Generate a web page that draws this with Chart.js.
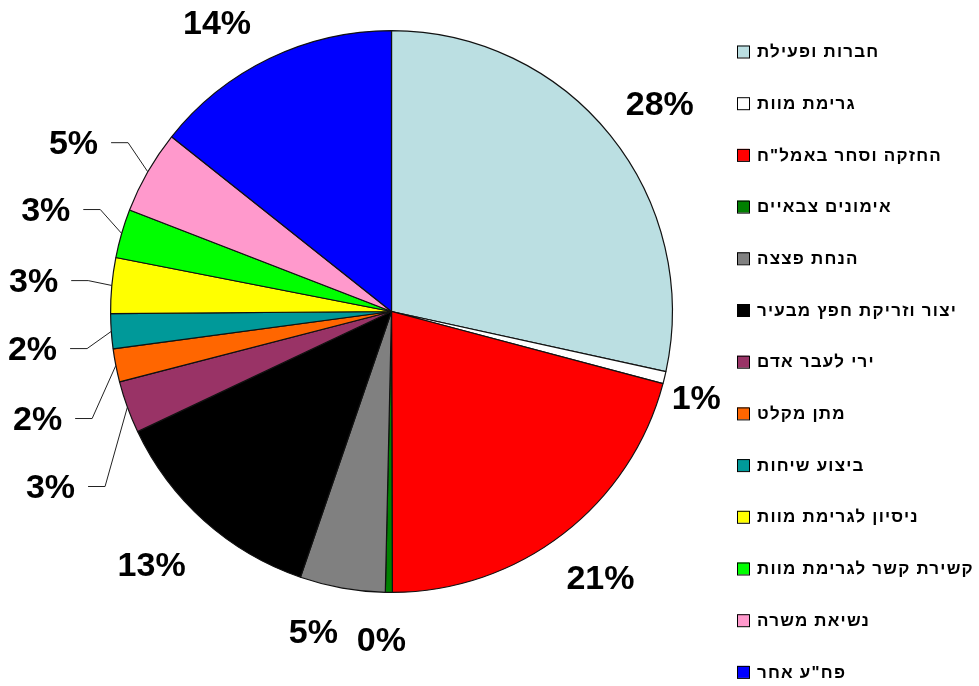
<!DOCTYPE html>
<html>
<head>
<meta charset="utf-8">
<script src="https://cdn.jsdelivr.net/npm/chart.js@4"></script>
<style>
  html, body { margin: 0; padding: 0; background: #fff; }
  #wrap { width: 979px; height: 686px; }
</style>
</head>
<body>
<div id="wrap"><canvas id="pieChart" width="979" height="686"></canvas></div>
<script>
// categories, clockwise from 12 o'clock
var categories = [
  'חברות ופעילת',
  'גרימת מוות',
  'החזקה וסחר באמל"ח',
  'אימונים צבאיים',
  'הנחת פצצה',
  'יצור וזריקת חפץ מבעיר',
  'ירי לעבר אדם',
  'מתן מקלט',
  'ביצוע שיחות',
  'ניסיון לגרימת מוות',
  'קשירת קשר לגרימת מוות',
  'נשיאת משרה',
  'פח"ע אחר'
];

// share of each category
var shares = [28.4, 0.7, 20.8, 0.4, 4.9, 12.7, 3.0, 1.9, 2.0, 3.2, 2.8, 4.8, 14.3];

var sliceColors = [
  '#BBDFE2', '#FFFFFF', '#FF0000', '#008000', '#808080', '#000000', '#993366',
  '#FF6600', '#009999', '#FFFF00', '#00FF00', '#FF99CC', '#0000FF'
];

// where each % label sits, as offset from pie centre in units of radius
var labelSpots = [
  [0.955, -0.741], [1.085, 0.306], [0.744, 0.947], [-0.036, 1.167],
  [-0.278, 1.139], [-0.854, 0.900], [-1.214, 0.623], [-1.260, 0.381],
  [-1.278, 0.132], [-1.274, -0.110], [-1.231, -0.363], [-1.132, -0.601],
  [-0.621, -1.030]
];
// labels that get a leader line back to their slice
var leaderLines = [false, false, false, false, false, false, true, true, true, true, true, true, false];

var labelFont = 'bold 34px "Liberation Sans", Arial, sans-serif';
var legendFont = 'bold 17px "Liberation Sans", Arial, sans-serif';

// draws the percentage labels (with leader lines for the small left slices)
var pctLabels = {
  id: 'pctLabels',
  afterDatasetsDraw: function (chart) {
    var ctx = chart.ctx;
    var arcs = chart.getDatasetMeta(0).data;
    var total = shares.reduce(function (a, b) { return a + b; }, 0);
    ctx.save();
    ctx.font = labelFont;
    ctx.textAlign = 'center';
    ctx.textBaseline = 'middle';
    arcs.forEach(function (arc, i) {
      var r = arc.outerRadius;
      var lx = arc.x + labelSpots[i][0] * r;
      var ly = arc.y + labelSpots[i][1] * r;
      var txt = Math.round(shares[i] / total * 100) + '%';
      ctx.fillStyle = '#000';
      ctx.fillText(txt, lx, ly + 2);
      if (leaderLines[i]) {
        var mid = (arc.startAngle + arc.endAngle) / 2;
        var ex = arc.x + Math.cos(mid) * r;
        var ey = arc.y + Math.sin(mid) * r;
        var right = lx + ctx.measureText(txt).width / 2;
        ctx.strokeStyle = '#222';
        ctx.lineWidth = 1;
        ctx.beginPath();
        ctx.moveTo(right + 13, ly);
        ctx.lineTo(right + 30, ly);
        ctx.lineTo(ex, ey);
        ctx.stroke();
      }
    });
    ctx.restore();
  }
};

// draws the legend on the right: box on the left, hebrew text after it
var sideLegend = {
  id: 'sideLegend',
  afterDraw: function (chart) {
    var ctx = chart.ctx;
    ctx.save();
    ctx.font = legendFont;
    ctx.letterSpacing = '1.2px';
    ctx.textBaseline = 'middle';
    ctx.textAlign = 'left';
    ctx.direction = 'rtl';
    categories.forEach(function (name, i) {
      var y = 51.5 + i * 51.7;
      ctx.fillStyle = sliceColors[i];
      ctx.fillRect(737, y - 6, 12, 12);
      ctx.strokeStyle = '#000';
      ctx.lineWidth = 1;
      ctx.strokeRect(737.5, y - 5.5, 12, 12);
      ctx.fillStyle = '#000';
      ctx.fillText(name, 757, y + 1);
    });
    ctx.restore();
  }
};

var pieOptions = {
  responsive: false,
  animation: false,
  layout: { padding: { left: 110, right: 306, top: 30, bottom: 93 } },
  plugins: {
    legend: { display: false },
    tooltip: { enabled: false }
  }
};

var ctx_pie = document.getElementById('pieChart').getContext('2d');
var myPieChart = new Chart(ctx_pie, {
  type: 'pie',
  data: {
    labels: categories,
    datasets: [{
      data: shares,
      backgroundColor: sliceColors,
      borderColor: '#111',
      borderWidth: 1.2
    }]
  },
  options: pieOptions,
  plugins: [pctLabels, sideLegend]
});
</script>
</body>
</html>
